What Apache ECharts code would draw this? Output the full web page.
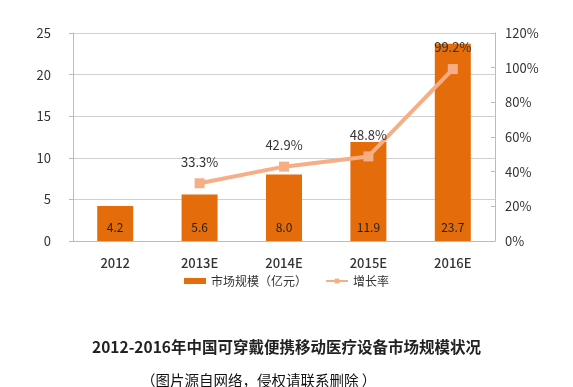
<!DOCTYPE html>
<html><head><meta charset="utf-8">
<script src="https://cdn.jsdelivr.net/npm/echarts@6/dist/echarts.min.js"></script>
<style>html,body{margin:0;padding:0;background:#fff}#c{width:573px;height:387px}</style>
</head><body><div id="c"></div>
<script>
const categories = ['2012','2013E','2014E','2015E','2016E'];
const marketSize = [4.2, 5.6, 8.0, 11.9, 23.7];
const growthRate = [null, 33.3, 42.9, 48.8, 99.2];
const leftTicks = [0, 5, 10, 15, 20, 25];
const rightTicks = [0, 20, 40, 60, 80, 100, 120];
const titleText = '2012-2016年中国可穿戴便携移动医疗设备市场规模状况';
const noteText = '（图片源自网络，侵权请联系删除 ）';

const font = '"Noto Sans CJK SC", "Noto Sans", sans-serif';
const chart = echarts.init(document.getElementById('c'));
chart.setOption({
  backgroundColor: '#fff',
  animation: false,
  textStyle: {fontFamily: font},
  title: [
    {text: titleText, left: 'center', top: 334, textStyle: {fontSize: 15.5, fontWeight: 'bold', color: '#222', fontFamily: font}},
    {text: noteText, left: 136, top: 368, textStyle: {fontSize: 14.5, fontWeight: 'normal', color: '#111', fontFamily: font}}
  ],
  legend: {
    top: 270, left: 'center', itemGap: 18, itemWidth: 22, itemHeight: 6,
    textStyle: {fontSize: 12, color: '#333', fontFamily: font},
    data: [
      {name: '市场规模（亿元）', icon: 'rect'},
      {name: '增长率'}
    ]
  },
  grid: {left: 73, right: 78, top: 33, bottom: 146},
  xAxis: {
    type: 'category', data: categories,
    axisLine: {lineStyle: {color: '#bbb'}}, axisTick: {show: false},
    axisLabel: {fontSize: 13, color: '#333', margin: 16, fontWeight: 500, fontFamily: font}
  },
  yAxis: [
    {type: 'value', min: leftTicks[0], max: leftTicks[leftTicks.length-1], interval: 5,
     axisLine: {show: true, lineStyle: {color: '#bbb'}}, axisTick: {show: true, length: 4, lineStyle: {color: '#bbb'}},
     axisLabel: {fontSize: 13, color: '#333', margin: 22},
     splitLine: {lineStyle: {color: '#d0d0d0'}}},
    {type: 'value', min: rightTicks[0], max: rightTicks[rightTicks.length-1], interval: 20,
     axisLine: {show: true, lineStyle: {color: '#bbb'}}, axisTick: {show: true, inside: true, length: 4, lineStyle: {color: '#bbb'}},
     axisLabel: {fontSize: 13, color: '#333', margin: 10, formatter: '{value}%'},
     splitLine: {show: false}}
  ],
  series: [
    {name: '市场规模（亿元）', type: 'bar', data: marketSize, barWidth: 36,
     itemStyle: {color: '#E46C0A'},
     label: {show: true, position: 'insideBottom', distance: 8, color: '#222', fontSize: 12, formatter: p => p.value.toFixed(1)}},
    {name: '增长率', type: 'line', yAxisIndex: 1, data: growthRate,
     symbol: 'rect', symbolSize: 10, connectNulls: false,
     lineStyle: {color: '#F5AE86', width: 4}, itemStyle: {color: '#F5AE86'},
     label: {show: true, position: 'top', distance: 10, color: '#333', fontSize: 13, formatter: p => p.value.toFixed(1) + '%'}}
  ]
});
</script></body></html>
